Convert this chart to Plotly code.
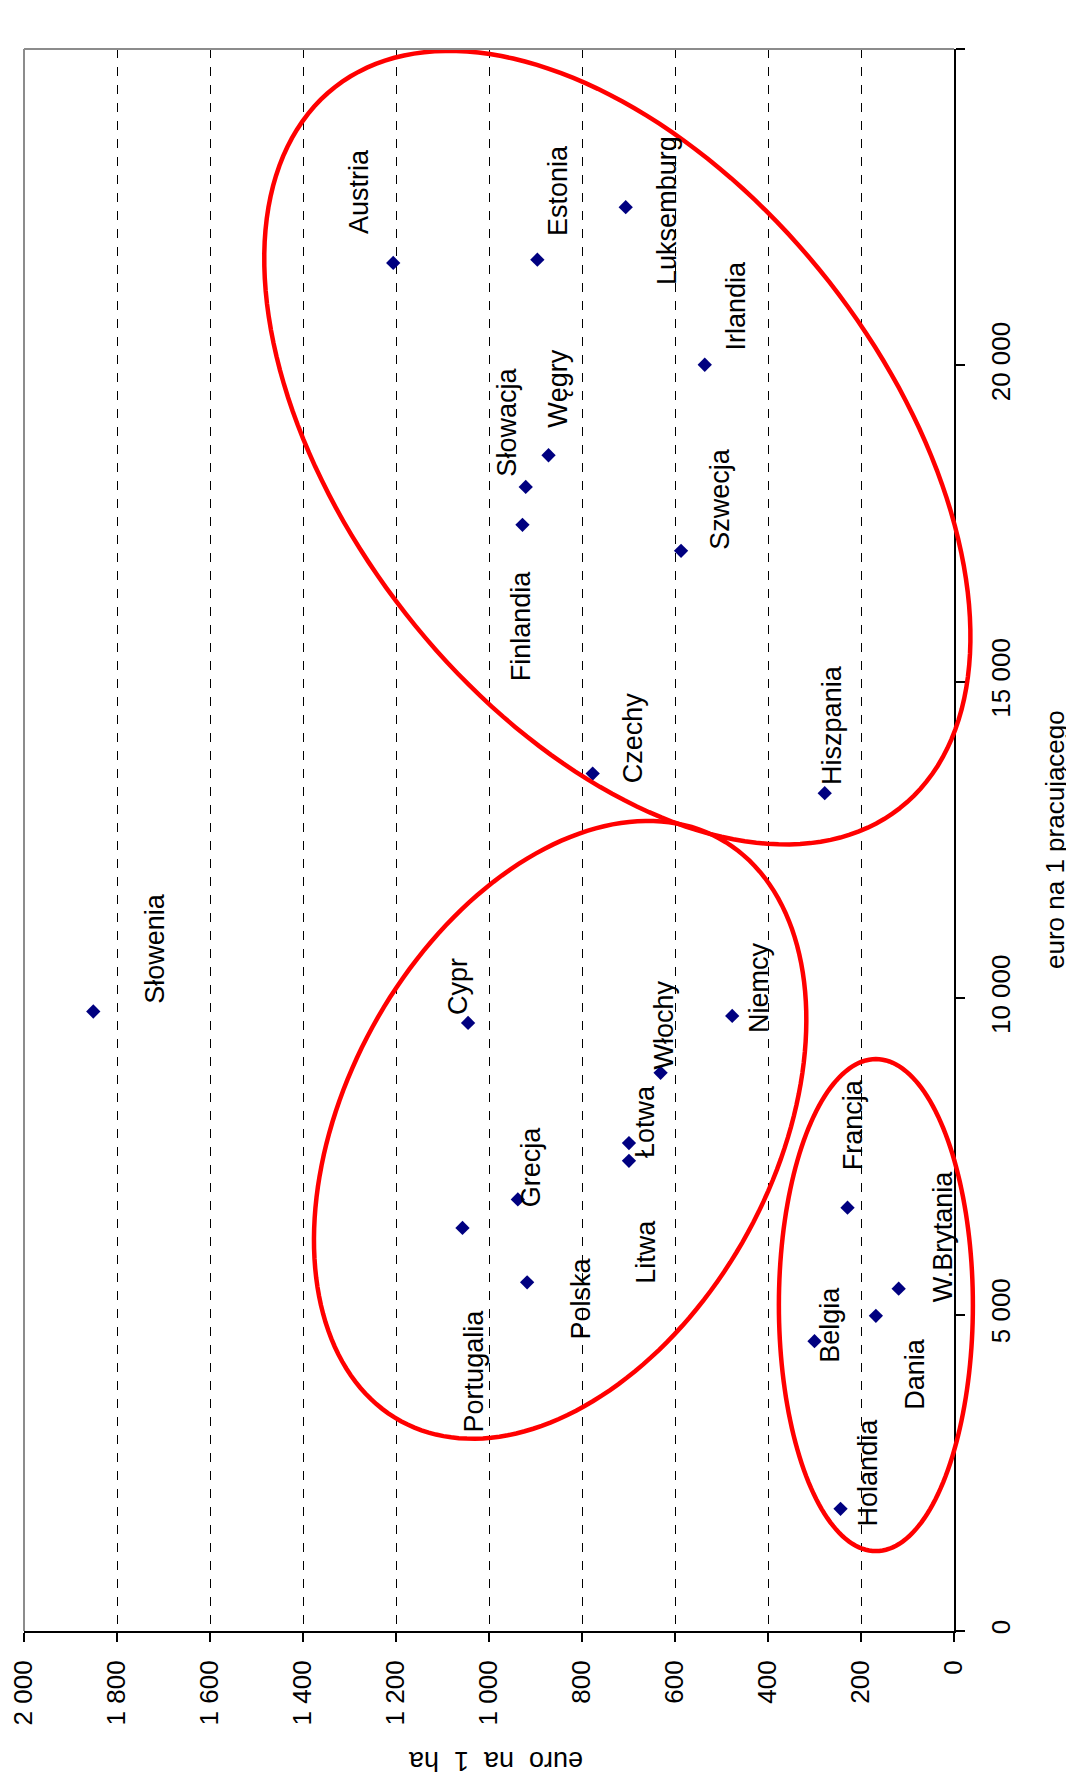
import numpy as np
import plotly.graph_objects as go

# ---------------- data ----------------
countries = ["Słowenia", "Cypr", "Portugalia", "Polska", "Grecja", "Łotwa", "Litwa",
             "Włochy", "Niemcy", "Czechy", "Hiszpania", "Finlandia", "Słowacja", "Węgry",
             "Estonia", "Austria", "Luksemburg", "Irlandia", "Szwecja", "Francja",
             "Belgia", "Dania", "W.Brytania", "Holandia"]
euro_per_worker = [9790, 9610, 6370, 5510, 6820, 7710, 7430,
                   8820, 9720, 13550, 13240, 17480, 18080, 18580,
                   21670, 21620, 22500, 20010, 17070, 6690,
                   4580, 4980, 5410, 1930]
euro_per_ha = [1851, 1045, 1057, 918, 938, 699, 699,
               631, 477, 777, 278, 928, 921, 872,
               896, 1206, 706, 536, 587, 229,
               300, 168, 119, 244]

ha_ticks = [0, 200, 400, 600, 800, 1000, 1200, 1400, 1600, 1800, 2000]
ha_ticktext = ["0", "200", "400", "600", "800", "1 000", "1 200", "1 400", "1 600", "1 800", "2 000"]
worker_ticks = [0, 5000, 10000, 15000, 20000, 25000]
worker_ticktext = ["0", "5 000", "10 000", "15 000", "20 000", "25 000"]

# label offsets in pixels (dx right, dy down) relative to each point
label_offsets = [(62, -63), (-10, -36), (11, 143), (54, 16), (14, -33), (16, -22), (17, 91),
                 (3, -48), (27, -28), (40, -36), (7, -68), (-2, 101), (-19, -65), (10, -67),
                 (20, -69), (-34, -71), (41, 3), (31, -59), (39, -52), (5, -83),
                 (16, -16), (39, 58), (44, -52), (27, -36)]

# group ellipses: centre (euro/ha, euro/worker), semi-axes in px, angle (deg, screen)
ellipses = [
    dict(c=(724, 18700), a=458, b=269, ang=51.9),
    dict(c=(847, 7920), a=332, b=214, ang=-61.35),
    dict(c=(168, 5150), a=246, b=97, ang=90.0),
]

# ---------------- layout geometry ----------------
# the page body adds an 8px margin, so the figure is 8px smaller and shifted
BODY = 8
W, H = 1074 - BODY, 1777 - BODY
ML, MR, MT, MB = 24 - BODY, 120, 49 - BODY, 146
PW, PH = W - ML - MR, H - MT - MB
XR = [2000, 0]
YR = [0, 25000]

FONT = "Arial, 'Liberation Sans', sans-serif"

fig = go.Figure()

fig.add_trace(go.Scatter(
    x=euro_per_ha, y=euro_per_worker, mode="markers",
    marker=dict(symbol="diamond", size=11, color="#000080", line=dict(width=0)),
    hoverinfo="text", text=countries, showlegend=False,
))

annotations = []
for name, xv, yv, (dx, dy) in zip(countries, euro_per_ha, euro_per_worker, label_offsets):
    annotations.append(dict(
        x=xv, y=yv, xref="x", yref="y", text=name, showarrow=False,
        textangle=-90, xshift=dx, yshift=-dy, xanchor="center", yanchor="middle",
        font=dict(family=FONT, size=27, color="black"),
    ))

# axis titles (positions given in page pixels)
annotations.append(dict(
    x=(1055 - BODY - ML) / PW, y=0.5, xref="paper", yref="paper",
    xanchor="center", yanchor="middle",
    text="euro na 1 pracującego", showarrow=False, textangle=-90,
    font=dict(family=FONT, size=26, color="black"),
))
annotations.append(dict(
    x=(496 - BODY - ML) / PW, y=(MT + PH - (1761 - BODY)) / PH, xref="paper", yref="paper",
    xanchor="center", yanchor="middle",
    text="euro\u00a0\u00a0na\u00a0\u00a01\u00a0\u00a0ha", showarrow=False,
    textangle=180,
    font=dict(family=FONT, size=27, color="black"),
))

shapes = []
# ellipses drawn in paper coordinates so they can cross the axis lines
for e in ellipses:
    cx = (XR[0] - e["c"][0]) / (XR[0] - XR[1])
    cy = (e["c"][1] - YR[0]) / (YR[1] - YR[0])
    t = np.linspace(0, 2 * np.pi, 181)
    th = np.deg2rad(e["ang"])
    px = e["a"] * np.cos(t) * np.cos(th) - e["b"] * np.sin(t) * np.sin(th)
    py = e["a"] * np.cos(t) * np.sin(th) + e["b"] * np.sin(t) * np.cos(th)
    xs = cx + px / PW
    ys = cy - py / PH
    path = "M " + " L ".join(f"{a:.5f},{b:.5f}" for a, b in zip(xs, ys)) + " Z"
    shapes.append(dict(type="path", path=path, xref="paper", yref="paper",
                       line=dict(color="#FF0000", width=4.5), layer="above"))

# grey plot-area border (top and left)
shapes.append(dict(type="line", xref="paper", yref="paper", x0=0, x1=1, y0=1, y1=1,
                   line=dict(color="#8c8c8c", width=2), layer="above"))
shapes.append(dict(type="line", xref="paper", yref="paper", x0=0, x1=0, y0=0, y1=1,
                   line=dict(color="#8c8c8c", width=2), layer="above"))

fig.update_layout(
    width=W, height=H,
    margin=dict(l=ML, r=MR, t=MT, b=MB),
    paper_bgcolor="white", plot_bgcolor="white",
    font=dict(family=FONT, size=26, color="black"),
    showlegend=False,
    annotations=annotations,
    shapes=shapes,
    xaxis=dict(
        range=XR, tickmode="array", tickvals=ha_ticks, ticktext=ha_ticktext,
        tickangle=-90, ticks="outside", ticklen=9, tickwidth=2, tickcolor="black",
        showline=True, linecolor="black", linewidth=2,
        showgrid=True, gridcolor="black", gridwidth=1, griddash="9px,9px",
        zeroline=False, tickfont=dict(family=FONT, size=26, color="black"),
        ticklabelstandoff=8, automargin=False,
    ),
    yaxis=dict(
        range=YR, side="right", tickmode="array", tickvals=worker_ticks,
        ticktext=worker_ticktext, tickangle=-90, ticks="outside", ticklen=9,
        tickwidth=2, tickcolor="black",
        showline=True, linecolor="black", linewidth=2,
        showgrid=False, zeroline=False,
        tickfont=dict(family=FONT, size=26, color="black"),
        ticklabelstandoff=14, automargin=False,
    ),
)

fig.write_html("out.html")
